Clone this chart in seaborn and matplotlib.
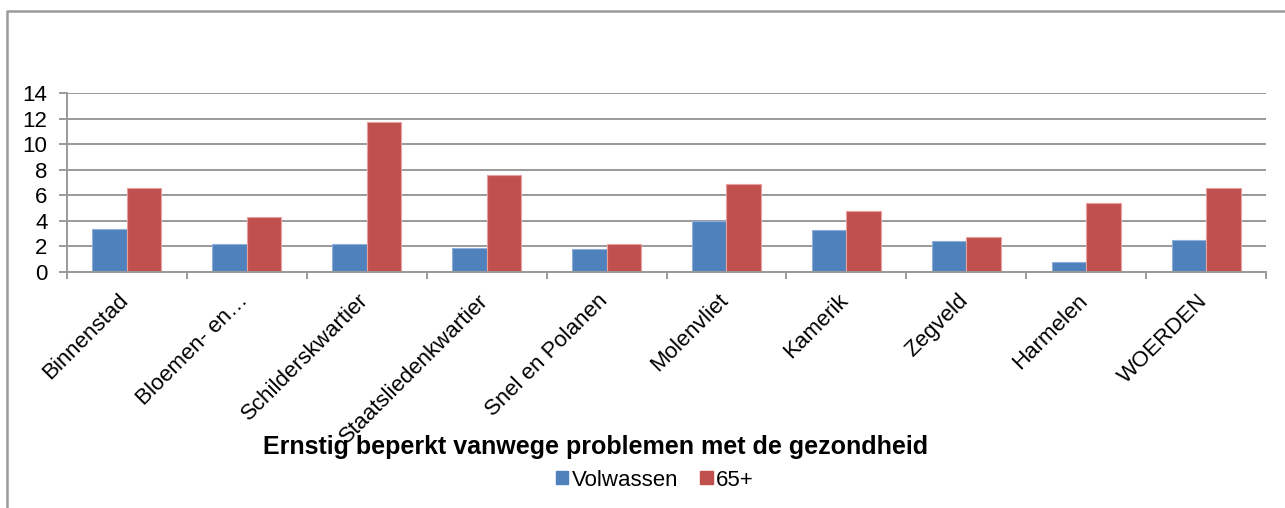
import pandas as pd
import matplotlib.pyplot as plt
import seaborn as sns
from matplotlib.lines import Line2D
from matplotlib.ticker import FixedLocator
from matplotlib.transforms import ScaledTranslation

# Gegevens
wijken = ['Binnenstad', 'Bloemen- en…', 'Schilderskwartier', 'Staatsliedenkwartier',
          'Snel en Polanen', 'Molenvliet', 'Kamerik', 'Zegveld', 'Harmelen', 'WOERDEN']
volwassen = [3.4, 2.2, 2.2, 1.9, 1.8, 4.0, 3.3, 2.4, 0.8, 2.5]
ouderen = [6.6, 4.3, 11.7, 7.6, 2.2, 6.9, 4.8, 2.7, 5.4, 6.6]
groepen = ['Volwassen', '65+']
kleuren = ['#4F81BD', '#C0504D']
randen = ['#8FAEDA', '#E8A09E']
y_ticks = [0, 2, 4, 6, 8, 10, 12, 14]

df = pd.DataFrame({
    'wijk': wijken * 2,
    'waarde': volwassen + ouderen,
    'groep': [groepen[0]] * len(wijken) + [groepen[1]] * len(wijken),
})

sns.set_style("white")
plt.rcParams['font.family'] = ['Liberation Sans', 'DejaVu Sans']
plt.rcParams['text.color'] = 'black'

fig = plt.figure(figsize=(12.85, 5.08), dpi=100)
ax = fig.add_axes([67 / 1285, 1 - 272 / 508, (1266 - 67) / 1285, (272 - 93) / 508])

sns.barplot(data=df, x='wijk', y='waarde', hue='groep', order=wijken,
            hue_order=groepen, palette=kleuren, width=0.575, gap=0,
            saturation=1, ax=ax, legend=False)

# randjes van de staven
for cont, rand in zip(ax.containers, randen):
    for p in cont:
        p.set_edgecolor(rand)
        p.set_linewidth(0.8)

ax.set_xlim(-0.5, len(wijken) - 0.5)
ax.set_ylim(0, 14)
ax.set_yticks(y_ticks)
ax.yaxis.grid(True, color='#9A9A9A', linewidth=1.4)
ax.set_axisbelow(True)
ax.set_xlabel('')
ax.set_ylabel('')

for s in ['top', 'right']:
    ax.spines[s].set_visible(False)
for s in ['left', 'bottom']:
    ax.spines[s].set_color('#9A9A9A')
    ax.spines[s].set_linewidth(1.4)

# streepjes tussen de categorieen
ax.xaxis.set_minor_locator(FixedLocator([i - 0.5 for i in range(len(wijken) + 1)]))
ax.tick_params(axis='x', which='minor', length=5, width=1.4, color='#9A9A9A', bottom=True)
ax.tick_params(axis='x', which='major', length=0, pad=13, labelsize=16, labelcolor='black')
ax.tick_params(axis='y', length=6, width=1.4, color='#9A9A9A', left=True, pad=8,
               labelsize=16, labelcolor='black')
verschuif = ScaledTranslation(6 / 100, 0, fig.dpi_scale_trans)
for lab in ax.get_xticklabels():
    lab.set_rotation(45)
    lab.set_ha('right')
    lab.set_transform(lab.get_transform() + verschuif)

fig.text(596 / 1285, 1 - 447 / 508, 'Ernstig beperkt vanwege problemen met de gezondheid',
         ha='center', va='center', fontsize=18, fontweight='bold', color='black')

handles = [plt.Rectangle((0, 0), 1, 1, color=c) for c in kleuren]
fig.legend(handles, groepen, loc='center', bbox_to_anchor=(655 / 1285, 1 - 480 / 508),
           ncol=2, frameon=False, fontsize=16, handlelength=0.55, handleheight=0.55,
           handletextpad=0.15, columnspacing=1.0, labelcolor='black')

# rand van het kader
fig.add_artist(Line2D([7 / 1285, 7 / 1285, 1], [0, 1 - 10.5 / 508, 1 - 10.5 / 508],
                      color='#9A9A9A', linewidth=1.8))

plt.savefig('out.png', dpi=100)
